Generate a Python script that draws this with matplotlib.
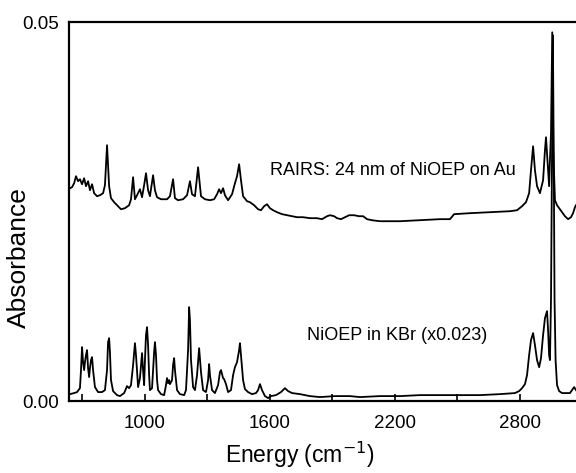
import matplotlib
matplotlib.use('Agg')
import matplotlib.pyplot as plt
from matplotlib.ticker import FixedLocator

plt.rcParams['font.family'] = ['Liberation Sans', 'DejaVu Sans']

# RAIRS spectrum, 24 nm NiOEP on Au
rairs_wn = [642, 652, 662, 671, 681, 690, 700, 710, 719, 729, 738, 748, 758, 772, 786, 801, 810, 820, 830, 839,
            854, 868, 887, 906, 926, 935, 945, 954, 964, 978, 988, 998, 1007, 1017, 1026, 1041, 1050, 1060, 1079, 1094,
            1108, 1122, 1137, 1146, 1161, 1185, 1204, 1218, 1228, 1242, 1257, 1271, 1290, 1314, 1334, 1348, 1358, 1367, 1377, 1386,
            1401, 1420, 1434, 1444, 1454, 1463, 1473, 1492, 1506, 1526, 1545, 1559, 1574, 1588, 1602, 1617, 1636, 1660, 1684, 1708,
            1732, 1761, 1794, 1828, 1852, 1876, 1890, 1910, 1924, 1943, 1962, 1982, 2006, 2030, 2049, 2068, 2092, 2130, 2226, 2322,
            2418, 2466, 2486, 2562, 2658, 2754, 2788, 2812, 2831, 2846, 2855, 2865, 2874, 2884, 2898, 2913, 2922, 2927, 2937, 2942,
            2946, 2951, 2957, 2962, 2970, 2980, 2990, 3004, 3018, 3033, 3047, 3057, 3066, 3071]
rairs_abs = [0.02809, 0.02823, 0.02875, 0.02968, 0.02902, 0.02928, 0.02862, 0.02941, 0.02836, 0.02902,
             0.02783, 0.02862, 0.02744, 0.02704, 0.02717, 0.02744, 0.02849, 0.03377, 0.02836, 0.02678,
             0.02625, 0.02585, 0.02532, 0.02546, 0.02585, 0.02664, 0.02955, 0.02664, 0.02717, 0.02796,
             0.02691, 0.02849, 0.03007, 0.02783, 0.02704, 0.02981, 0.02783, 0.02691, 0.02664, 0.02664,
             0.02664, 0.02704, 0.02928, 0.02678, 0.02651, 0.02664, 0.02717, 0.02902, 0.02730, 0.02704,
             0.03086, 0.02704, 0.02664, 0.02651, 0.02664, 0.02730, 0.02796, 0.02744, 0.02809, 0.02717,
             0.02651, 0.02730, 0.02875, 0.02968, 0.03126, 0.02915, 0.02704, 0.02638, 0.02625, 0.02585,
             0.02532, 0.02519, 0.02572, 0.02598, 0.02546, 0.02519, 0.02493, 0.02467, 0.02453, 0.02440,
             0.02427, 0.02427, 0.02414, 0.02414, 0.02401, 0.02440, 0.02453, 0.02440, 0.02414, 0.02401,
             0.02427, 0.02453, 0.02453, 0.02440, 0.02440, 0.02401, 0.02387, 0.02374, 0.02374, 0.02387,
             0.02401, 0.02401, 0.02467, 0.02480, 0.02493, 0.02506, 0.02519, 0.02572, 0.02625, 0.02744,
             0.03047, 0.03363, 0.03047, 0.02836, 0.02744, 0.02915, 0.03311, 0.03482, 0.03047, 0.02836,
             0.03179, 0.03535, 0.04867, 0.03311, 0.02651, 0.02585, 0.02546, 0.02493, 0.02440, 0.02401,
             0.02427, 0.02480, 0.02559, 0.02585]

# NiOEP in KBr, scaled x0.023
kbr_wn = [642, 662, 676, 690, 695, 700, 705, 710, 714, 719, 724, 729, 734, 738, 743, 748, 753, 762, 777, 796,
          810, 820, 825, 830, 834, 839, 849, 868, 882, 902, 916, 926, 935, 945, 954, 959, 969, 978, 988, 993,
          998, 1002, 1007, 1012, 1017, 1022, 1026, 1036, 1046, 1050, 1055, 1060, 1065, 1079, 1094, 1103, 1108, 1113, 1118, 1122,
          1132, 1137, 1142, 1146, 1156, 1170, 1190, 1199, 1209, 1214, 1218, 1223, 1233, 1242, 1252, 1262, 1271, 1281, 1295, 1305,
          1310, 1314, 1324, 1338, 1353, 1362, 1367, 1377, 1382, 1391, 1401, 1415, 1425, 1434, 1444, 1454, 1458, 1463, 1473, 1482,
          1497, 1516, 1535, 1545, 1554, 1564, 1578, 1593, 1607, 1631, 1655, 1674, 1689, 1708, 1746, 1794, 1842, 1914, 1986, 2034,
          2130, 2226, 2322, 2418, 2514, 2610, 2706, 2778, 2798, 2812, 2826, 2836, 2846, 2855, 2865, 2874, 2884, 2894, 2903, 2913,
          2922, 2932, 2937, 2942, 2946, 2951, 2956, 2960, 2964, 2968, 2973, 2980, 2990, 3004, 3023, 3042, 3052, 3062, 3071]
kbr_abs = [0.00092, 0.00106, 0.00119, 0.00171, 0.00409, 0.00712, 0.00514, 0.00409, 0.00514, 0.00607,
           0.00673, 0.00435, 0.00317, 0.00435, 0.00541, 0.00580, 0.00409, 0.00185, 0.00119, 0.00119,
           0.00145, 0.00409, 0.00778, 0.00831, 0.00646, 0.00277, 0.00132, 0.00079, 0.00066, 0.00106,
           0.00198, 0.00171, 0.00211, 0.00475, 0.00765, 0.00607, 0.00185, 0.00303, 0.00633, 0.00409,
           0.00211, 0.00541, 0.00871, 0.00976, 0.00739, 0.00343, 0.00145, 0.00171, 0.00646, 0.00778,
           0.00607, 0.00277, 0.00145, 0.00092, 0.00079, 0.00211, 0.00303, 0.00237, 0.00277, 0.00224,
           0.00277, 0.00475, 0.00567, 0.00409, 0.00145, 0.00092, 0.00079, 0.00145, 0.00673, 0.01240,
           0.01068, 0.00541, 0.00185, 0.00145, 0.00343, 0.00699, 0.00383, 0.00145, 0.00119, 0.00277,
           0.00488, 0.00343, 0.00145, 0.00106, 0.00211, 0.00383, 0.00409, 0.00303, 0.00290, 0.00224,
           0.00119, 0.00145, 0.00343, 0.00448, 0.00514, 0.00673, 0.00765, 0.00607, 0.00277, 0.00158,
           0.00119, 0.00092, 0.00106, 0.00145, 0.00224, 0.00145, 0.00066, 0.00040, 0.00066, 0.00079,
           0.00119, 0.00171, 0.00132, 0.00106, 0.00092, 0.00066, 0.00053, 0.00066, 0.00066, 0.00053,
           0.00066, 0.00066, 0.00079, 0.00079, 0.00079, 0.00079, 0.00092, 0.00106, 0.00132, 0.00171,
           0.00224, 0.00343, 0.00607, 0.00805, 0.00897, 0.00739, 0.00541, 0.00448, 0.00567, 0.00871,
           0.01095, 0.01187, 0.00936, 0.00607, 0.00541, 0.01332, 0.03311, 0.04828, 0.03311, 0.01332,
           0.00541, 0.00211, 0.00132, 0.00106, 0.00106, 0.00106, 0.00145, 0.00185, 0.00145]

major_ticks = [1000, 1600, 2200, 2800]
minor_ticks = [700, 1300, 1900, 2500]

fig = plt.figure(figsize=(5.76, 4.73), dpi=100)
ax = fig.add_axes([0.12, 0.152, 0.88, 0.801])

ax.plot(rairs_wn, rairs_abs, color='black', lw=1.3)
ax.plot(kbr_wn, kbr_abs, color='black', lw=1.3)

ax.set_xlim(638, 3071)
ax.set_ylim(0, 0.05)

ax.xaxis.set_major_locator(FixedLocator(major_ticks))
ax.xaxis.set_minor_locator(FixedLocator(minor_ticks))
ax.set_yticks([0.0, 0.05])
ax.set_yticklabels(['0.00', '0.05'])
ax.tick_params(axis='both', which='both', direction='in', labelsize=13.5, width=1.2)
ax.tick_params(axis='x', which='major', length=5, pad=10)
ax.tick_params(axis='x', which='minor', length=5)
ax.tick_params(axis='y', length=0, pad=7)

for s in ['left', 'bottom', 'top']:
    ax.spines[s].set_linewidth(1.6)
ax.spines['right'].set_visible(False)

ax.set_xlabel('Energy (cm$^{-1}$)', fontsize=16.5)
ax.xaxis.set_label_coords(0.456, -0.103)
ax.set_ylabel('Absorbance', fontsize=19)
ax.yaxis.set_label_coords(-0.075, 0.38)

ax.text(0.396, 0.608, 'RAIRS: 24 nm of NiOEP on Au', transform=ax.transAxes,
        fontsize=13, va='center', ha='left')
ax.text(0.469, 0.172, 'NiOEP in KBr (x0.023)', transform=ax.transAxes,
        fontsize=13, va='center', ha='left')

fig.savefig('out.png', dpi=100)
